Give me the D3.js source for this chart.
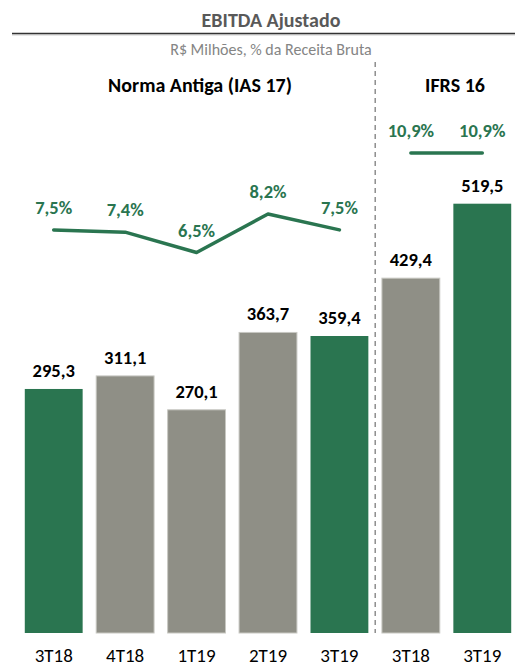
<!DOCTYPE html>
<html>
<head>
	<meta charset="UTF-8">
	<script src="https://cdn.jsdelivr.net/npm/d3@7"></script>
	<style>
		body { margin: 0; background: #fff; }
		svg text { font-family: Calibri, Carlito, "Open Sans", sans-serif; }
	</style>
</head>
<body>
	<script>
		const categories = ['3T18', '4T18', '1T19', '2T19', '3T19', '3T18', '3T19'];
		const ebitda = [295.3, 311.1, 270.1, 363.7, 359.4, 429.4, 519.5];
		const highlight = [true, false, false, false, true, false, true];
		const marginOld = [7.5, 7.4, 6.5, 8.2, 7.5];
		const marginNew = [10.9, 10.9];
		const groupTitles = ['Norma Antiga (IAS 17)', 'IFRS 16'];

		const width = 515, height = 666;
		const green = '#2a7550', gray = '#8f8f86';
		const fmt = v => d3.format('.1f')(v).replace('.', ',');

		const svg = d3.select('body').append('svg')
			.attr('width', width)
			.attr('height', height);

		const x = d3.scaleBand()
			.domain(d3.range(categories.length))
			.range([18, 518])
			.paddingInner(0.19)
			.paddingOuter(0.095);

		const y = d3.scaleLinear()
			.domain([0, 766])
			.range([633, 0]);

		const yp = d3.scaleLinear()
			.domain([6.5, 10.9])
			.range([252.5, 153]);

		// title + rule
		svg.append('text')
			.attr('x', 271).attr('y', 27)
			.attr('text-anchor', 'middle')
			.style('font-size', '20px').style('font-weight', 'bold')
			.style('fill', '#595959')
			.text('EBITDA Ajustado');
		svg.append('line')
			.attr('x1', 12).attr('x2', width).attr('y1', 35).attr('y2', 35)
			.style('stroke', '#e6e6e6').style('stroke-width', 2);
		svg.append('line')
			.attr('x1', 12).attr('x2', width).attr('y1', 33.5).attr('y2', 33.5)
			.style('stroke', '#333').style('stroke-width', 1.5);
		svg.append('text')
			.attr('x', 271).attr('y', 55)
			.attr('text-anchor', 'middle')
			.style('font-size', '16px')
			.style('fill', '#858585')
			.text('R$ Milhões, % da Receita Bruta');

		// group titles
		svg.selectAll('.grp')
			.data(groupTitles)
			.enter().append('text')
			.attr('class', 'grp')
			.attr('x', (d, i) => i === 0 ? 200 : 455)
			.attr('y', 92)
			.attr('text-anchor', 'middle')
			.style('font-size', '20px').style('font-weight', 'bold')
			.style('fill', '#000')
			.text(d => d);

		// separator
		const sepX = (x(4) + x.bandwidth() + x(5)) / 2;
		svg.append('line')
			.attr('x1', sepX).attr('x2', sepX)
			.attr('y1', 62).attr('y2', 633)
			.style('stroke', '#555')
			.style('stroke-width', 1)
			.style('stroke-dasharray', '5,4');

		// bars
		svg.selectAll('.bar')
			.data(ebitda)
			.enter().append('rect')
			.attr('class', 'bar')
			.attr('x', (d, i) => x(i))
			.attr('width', x.bandwidth())
			.attr('y', d => y(d))
			.attr('height', d => y(0) - y(d))
			.style('fill', (d, i) => highlight[i] ? green : gray)
			.style('stroke', (d, i) => highlight[i] ? 'none' : '#c8c8c2')
			.style('stroke-width', 1);

		svg.selectAll('.val')
			.data(ebitda)
			.enter().append('text')
			.attr('class', 'val')
			.attr('x', (d, i) => x(i) + x.bandwidth() / 2)
			.attr('y', d => y(d) - 12)
			.attr('text-anchor', 'middle')
			.style('font-size', '18.5px').style('font-weight', 'bold')
			.style('fill', '#000')
			.text(fmt);

		// category labels
		svg.selectAll('.cat')
			.data(categories)
			.enter().append('text')
			.attr('class', 'cat')
			.attr('x', (d, i) => x(i) + x.bandwidth() / 2)
			.attr('y', 662)
			.attr('text-anchor', 'middle')
			.style('font-size', '19px')
			.style('fill', '#000')
			.text(d => d);

		// margin lines
		const line = d3.line()
			.x(d => x(d.i) + x.bandwidth() / 2)
			.y(d => yp(d.v));

		const oldPts = marginOld.map((v, i) => ({i: i, v: v}));
		const newPts = marginNew.map((v, i) => ({i: i + 5, v: v}));

		[oldPts, newPts].forEach(pts => {
			svg.append('path')
				.datum(pts)
				.attr('d', line)
				.style('fill', 'none')
				.style('stroke', green)
				.style('stroke-width', 3.5)
				.style('stroke-linecap', 'round')
				.style('stroke-linejoin', 'round');

			svg.selectAll(null)
				.data(pts)
				.enter().append('text')
				.attr('x', d => x(d.i) + x.bandwidth() / 2)
				.attr('y', d => yp(d.v) - 16)
				.attr('text-anchor', 'middle')
				.style('font-size', '18.5px').style('font-weight', 'bold')
				.style('fill', green)
				.text(d => fmt(d.v) + '%');
		});
	</script>
</body>
</html>
